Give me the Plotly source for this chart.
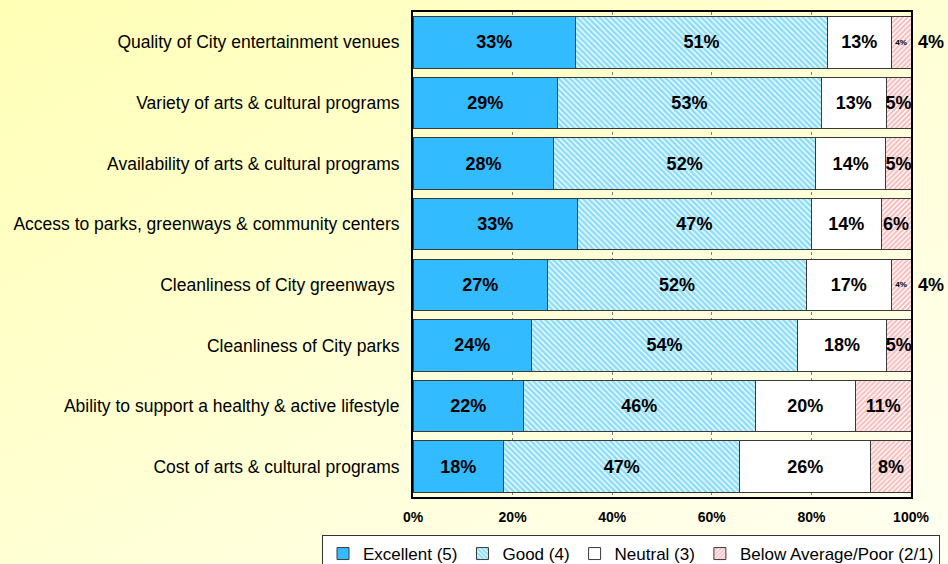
import base64
import plotly.graph_objects as go

categories = [
    "Quality of City entertainment venues",
    "Variety of arts & cultural programs",
    "Availability of arts & cultural programs",
    "Access to parks, greenways & community centers",
    "Cleanliness of City greenways ",
    "Cleanliness of City parks",
    "Ability to support a healthy & active lifestyle",
    "Cost of arts & cultural programs",
]
excellent = [33, 29, 28, 33, 27, 24, 22, 18]
good = [51, 53, 52, 47, 52, 54, 46, 47]
neutral = [13, 13, 14, 14, 17, 18, 20, 26]
poor = [4, 5, 5, 6, 4, 5, 11, 8]
x_ticks = [0, 20, 40, 60, 80, 100]

FONT = "Liberation Sans, Arial, sans-serif"
LINE = dict(color="#3a3a3a", width=1)
LBL = 18

fig = go.Figure()
fig.add_trace(go.Bar(
    y=categories, x=excellent, orientation="h", name="Excellent (5)",
    marker=dict(color="#33BBFF", line=LINE),
    text=[f"<b>{v}%</b>" for v in excellent],
    textfont=dict(family=FONT, size=LBL, color="black"),
))
fig.add_trace(go.Bar(
    y=categories, x=good, orientation="h", name="Good (4)",
    marker=dict(color="white", line=LINE,
                pattern=dict(shape="\\", fgcolor="#1CBCF0", bgcolor="white", size=4, solidity=0.7)),
    text=[f"<b>{v}%</b>" for v in good],
    textfont=dict(family=FONT, size=LBL, color="black"),
))
fig.add_trace(go.Bar(
    y=categories, x=neutral, orientation="h", name="Neutral (3)",
    marker=dict(color="white", line=LINE),
    text=[f"<b>{v}%</b>" for v in neutral],
    textfont=dict(family=FONT, size=LBL, color="black"),
))
poor_sizes = [8 if v == 4 else LBL for v in poor]
fig.add_trace(go.Bar(
    y=categories, x=poor, orientation="h", name="Below Average/Poor (2/1)",
    marker=dict(color="white", line=LINE,
                pattern=dict(shape="/", fgcolor="#F07C7C", bgcolor="white", size=3.5, solidity=0.62)),
    text=[f"<b>{v}%</b>" for v in poor],
    textfont=dict(family=FONT, size=poor_sizes, color="black"),
))

fig.update_traces(textposition="inside", insidetextanchor="middle", constraintext="none",
                  textangle=0, selector=dict(type="bar"))

# outside labels for the tiny segments
for cat, v in zip(categories, poor):
    if v == 4:
        fig.add_annotation(x=100, y=cat, xref="x", yref="y", text=f"<b>{v}%</b>",
                           showarrow=False, xanchor="left", xshift=5,
                           font=dict(family=FONT, size=LBL, color="black"))

svg = ('<svg xmlns="http://www.w3.org/2000/svg" width="948" height="564" preserveAspectRatio="none">'
       '<defs><linearGradient id="g" x1="0" y1="0" x2="1" y2="1">'
       '<stop offset="0" stop-color="#FFFFB6"/><stop offset="1" stop-color="#FFFFF2"/>'
       '</linearGradient></defs><rect width="948" height="564" fill="url(#g)"/></svg>')
uri = "data:image/svg+xml;base64," + base64.b64encode(svg.encode()).decode()

L, R, T, B = 413, 37, 12, 67
pw, ph = 948 - L - R, 564 - T - B
fig.add_layout_image(dict(source=uri, xref="paper", yref="paper",
                          x=-L / pw, y=1 + T / ph, sizex=948 / pw, sizey=564 / ph,
                          xanchor="left", yanchor="top", sizing="stretch", layer="below"))

fig.update_layout(
    barmode="stack", barnorm="percent", bargap=0.15,
    width=948, height=564,
    margin=dict(l=L, r=R, t=T, b=B, autoexpand=False),
    paper_bgcolor="#FFFFE0", plot_bgcolor="white",
    font=dict(family=FONT, size=17.5, color="black"),
    xaxis=dict(range=[0, 100], tickvals=x_ticks, ticktext=[f"<b>{v}%</b>" for v in x_ticks],
               tickfont=dict(size=14), showgrid=True, gridcolor="#808080", griddash="dot",
               gridwidth=1, zeroline=False, showline=True, linecolor="black", linewidth=2,
               mirror=True, ticks="", ticklabelstandoff=6),
    yaxis=dict(autorange="reversed", showline=True, linecolor="black", linewidth=2,
               mirror=True, ticks="", tickfont=dict(size=17.5), ticklabelstandoff=8),
    legend=dict(orientation="h", x=(322 - L) / pw, xanchor="left", y=(T + ph - 535) / ph,
                yanchor="top", bgcolor="white", bordercolor="#333333", borderwidth=1,
                font=dict(size=17), traceorder="normal", itemwidth=30, tracegroupgap=0),
    showlegend=True,
)

fig.write_html("out.html", config={"displayModeBar": False},
               post_script="document.body.style.margin='0';document.body.style.overflow='hidden';")
